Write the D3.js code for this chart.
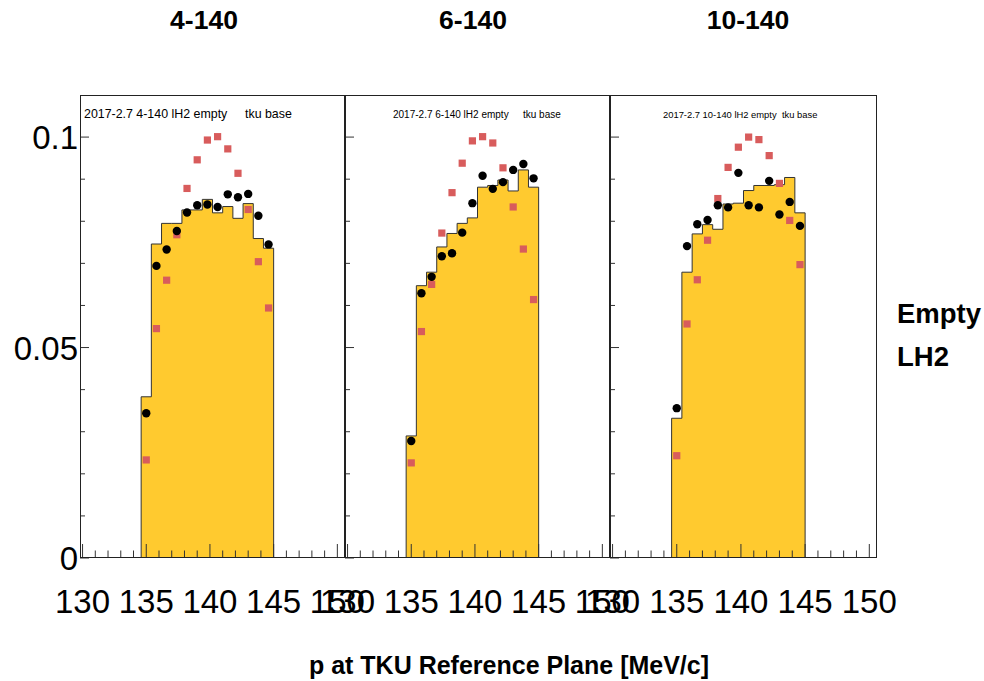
<!DOCTYPE html>
<html>
<head>
<meta charset="utf-8">
<script src="https://cdn.jsdelivr.net/npm/d3@7"></script>
<style>
  body { margin: 0; background: #fff; }
  svg { display: block; }
  text { font-family: "Liberation Sans", Arial, Helvetica, sans-serif; fill: #000; }
</style>
</head>
<body>
<svg id="chart" width="984" height="681"></svg>
<script>
// Momentum bin centres [MeV/c], bins are 0.8 MeV/c wide
const momentum = [135.0, 135.8, 136.6, 137.4, 138.2, 139.0, 139.8, 140.6, 141.4, 142.2, 143.0, 143.8, 144.6];
const binWidth = 0.8;

// Setting names
const settings = ["4-140", "6-140", "10-140"];

// 4-140
const base_4_140  = [0.0383, 0.0746, 0.0795, 0.0795, 0.0827, 0.0827, 0.0852, 0.0820, 0.0835, 0.0807, 0.0842, 0.0759, 0.0736];
const empty_4_140 = [0.0344, 0.0694, 0.0733, 0.0777, 0.0821, 0.0838, 0.0840, 0.0834, 0.0864, 0.0857, 0.0865, 0.0813, 0.0745];
const lh2_4_140   = [0.0233, 0.0545, 0.0660, 0.0768, 0.0878, 0.0946, 0.0993, 0.1001, 0.0972, 0.0914, 0.0828, 0.0704, 0.0594];

// 6-140
const base_6_140  = [0.0290, 0.0647, 0.0679, 0.0739, 0.0771, 0.0795, 0.0808, 0.0881, 0.0885, 0.0898, 0.0872, 0.0922, 0.0881];
const empty_6_140 = [0.0278, 0.0629, 0.0668, 0.0717, 0.0724, 0.0773, 0.0843, 0.0908, 0.0877, 0.0893, 0.0922, 0.0936, 0.0902];
const lh2_6_140   = [0.0226, 0.0538, 0.0650, 0.0772, 0.0868, 0.0938, 0.0991, 0.1001, 0.0986, 0.0927, 0.0834, 0.0734, 0.0614];

// 10-140
const base_10_140  = [0.0332, 0.0679, 0.0770, 0.0792, 0.0781, 0.0841, 0.0843, 0.0873, 0.0885, 0.0885, 0.0887, 0.0904, 0.0820];
const empty_10_140 = [0.0356, 0.0741, 0.0793, 0.0803, 0.0838, 0.0833, 0.0915, 0.0838, 0.0833, 0.0896, 0.0816, 0.0846, 0.0789];
const lh2_10_140   = [0.0243, 0.0556, 0.0661, 0.0755, 0.0854, 0.0928, 0.0976, 0.1000, 0.0994, 0.0956, 0.0890, 0.0802, 0.0697];

// Axis ticks and labels
const xMajorTicks = [130, 135, 140, 145, 150];
const xMinorTicks = [131, 132, 133, 134, 136, 137, 138, 139, 141, 142, 143, 144, 146, 147, 148, 149];
const yMajorTicks = [0, 0.05, 0.1];
const yMinorTicks = [0.01, 0.02, 0.03, 0.04, 0.06, 0.07, 0.08, 0.09];
const yTickLabels = ["0", "0.05", "0.1"];
const xTitle = "p at TKU Reference Plane [MeV/c]";
const legendLabels = ["Empty", "LH2"];

const panels = [
  { name: settings[0], base: base_4_140,  empty: empty_4_140,  lh2: lh2_4_140,
    left: 80,  right: 345, titleX: 204, noteSize: 12.4, noteX: 84,  tkuX: 245 },
  { name: settings[1], base: base_6_140,  empty: empty_6_140,  lh2: lh2_6_140,
    left: 345, right: 610, titleX: 473, noteSize: 10,   noteX: 393, tkuX: 523 },
  { name: settings[2], base: base_10_140, empty: empty_10_140, lh2: lh2_10_140,
    left: 610, right: 877, titleX: 748, noteSize: 9.4,  noteX: 663, tkuX: 782 }
];

const padTop = 95, padBottom = 558;
const svg = d3.select("#chart");

const y = d3.scaleLinear().domain([0, 0.11]).range([padBottom, padTop]);

panels.forEach((p) => {
  const x = d3.scaleLinear().domain([129.8, 150.6]).range([p.left, p.right]);
  const g = svg.append("g");

  // pad background
  g.append("rect")
    .attr("x", p.left).attr("y", padTop)
    .attr("width", p.right - p.left).attr("height", padBottom - padTop)
    .attr("fill", "#fff");

  // stepped histogram
  const pts = [[momentum[0] - binWidth / 2, 0]];
  momentum.forEach((m, i) => {
    pts.push([m - binWidth / 2, p.base[i]]);
    pts.push([m + binWidth / 2, p.base[i]]);
  });
  pts.push([momentum[momentum.length - 1] + binWidth / 2, 0]);
  const line = d3.line().x(d => x(d[0])).y(d => y(d[1]));
  g.append("path")
    .attr("d", line(pts))
    .attr("fill", "#ffca2f")
    .attr("stroke", "#333")
    .attr("stroke-width", 1);

  // x ticks (pointing up from the axis)
  g.selectAll(null).data(xMajorTicks).join("line")
    .attr("x1", d => x(d)).attr("x2", d => x(d))
    .attr("y1", padBottom).attr("y2", padBottom - 14)
    .attr("stroke", "#333").attr("stroke-width", 1);
  g.selectAll(null).data(xMinorTicks).join("line")
    .attr("x1", d => x(d)).attr("x2", d => x(d))
    .attr("y1", padBottom).attr("y2", padBottom - 7.5)
    .attr("stroke", "#333").attr("stroke-width", 1);

  // y ticks (pointing right from the left edge)
  g.selectAll(null).data(yMajorTicks).join("line")
    .attr("x1", p.left).attr("x2", p.left + 9)
    .attr("y1", d => y(d)).attr("y2", d => y(d))
    .attr("stroke", "#333").attr("stroke-width", 1);
  g.selectAll(null).data(yMinorTicks).join("line")
    .attr("x1", p.left).attr("x2", p.left + 5)
    .attr("y1", d => y(d)).attr("y2", d => y(d))
    .attr("stroke", "#333").attr("stroke-width", 1);

  // frame
  g.append("rect")
    .attr("x", p.left + 0.5).attr("y", padTop + 0.5)
    .attr("width", p.right - p.left - 1).attr("height", padBottom - padTop - 1)
    .attr("fill", "none").attr("stroke", "#222").attr("stroke-width", 1);

  // LH2 markers
  g.selectAll(null).data(momentum).join("rect")
    .attr("x", d => x(d) - 3.6)
    .attr("y", (d, i) => y(p.lh2[i]) - 3.6)
    .attr("width", 7.2).attr("height", 7.2)
    .attr("fill", "#d85c5c");

  // Empty markers
  g.selectAll(null).data(momentum).join("circle")
    .attr("cx", d => x(d))
    .attr("cy", (d, i) => y(p.empty[i]))
    .attr("r", 4.2)
    .attr("fill", "#000");

  // in-pad note
  g.append("text")
    .attr("x", p.noteX).attr("y", 117.5)
    .attr("font-size", p.noteSize)
    .text(`2017-2.7 ${p.name} lH2 empty`);
  g.append("text")
    .attr("x", p.tkuX).attr("y", 117.5)
    .attr("font-size", p.noteSize)
    .text("tku base");

  // pad title
  svg.append("text")
    .attr("x", p.titleX).attr("y", 29)
    .attr("text-anchor", "middle")
    .attr("font-size", 26.5).attr("font-weight", "bold")
    .text(p.name);

  p.x = x;
});

// x tick labels; each pad labels its own 130..150 range, so the
// 150 of one pad runs into the 130 of the next
panels.forEach(p => {
  svg.selectAll(null).data(xMajorTicks).join("text")
    .attr("x", d => p.x(d)).attr("y", 613)
    .attr("text-anchor", "middle")
    .attr("font-size", 33)
    .text(d => d);
});

// y tick labels on the first pad
svg.selectAll(null).data(yMajorTicks).join("text")
  .attr("x", 78).attr("y", d => y(d) + 12)
  .attr("text-anchor", "end")
  .attr("font-size", 33)
  .text((d, i) => yTickLabels[i]);

// axis title
svg.append("text")
  .attr("x", 509).attr("y", 674)
  .attr("text-anchor", "middle")
  .attr("font-size", 25).attr("font-weight", "bold")
  .text(xTitle);

// legend labels
svg.selectAll(null).data(legendLabels).join("text")
  .attr("x", 897).attr("y", (d, i) => 323 + i * 43)
  .attr("font-size", 27.5).attr("font-weight", "bold")
  .text(d => d);
</script>
</body>
</html>
